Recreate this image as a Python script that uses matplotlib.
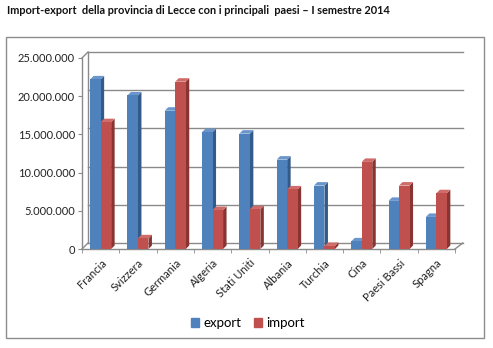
import matplotlib.pyplot as plt
from matplotlib.patches import Polygon, Rectangle, Patch

plt.rcParams['font.family'] = ['Lato', 'DejaVu Sans']

# import-export per paese, I semestre 2014 (euro)
paesi = ['Francia', 'Svizzera', 'Germania', 'Algeria', 'Stati Uniti',
         'Albania', 'Turchia', 'Cina', 'Paesi Bassi', 'Spagna']
export = [22200000, 20100000, 18100000, 15300000, 15100000,
          11700000, 8300000, 1000000, 6300000, 4200000]
importazioni = [16600000, 1400000, 21900000, 5100000, 5200000,
                7800000, 400000, 11400000, 8300000, 7300000]
yticks = [0, 5000000, 10000000, 15000000, 20000000, 25000000]

W, H = 493, 348
fig = plt.figure(figsize=(W / 100, H / 100), dpi=100)
ax = fig.add_axes([82 / W, (H - 249) / H, (455 - 82) / W, (249 - 58) / H])
ax.set_xlim(-0.5, len(paesi) - 0.5)
ax.set_ylim(0, yticks[-1])

# pixel -> data units
px_x = len(paesi) / (455 - 82)
px_y = yticks[-1] / (249 - 58)
wall_dx, wall_dy = 6 * px_x, 6 * px_y
grid_c = '#8a8a8a'
n = len(paesi)

# back wall gridlines + walls/floor edges
for v in yticks:
    ax.plot([-0.5 + wall_dx, n - 0.5 + wall_dx * 1.3], [v + wall_dy] * 2,
            color=grid_c, lw=1, clip_on=False, zorder=1)
ax.plot([-0.5 + wall_dx] * 2, [wall_dy, yticks[-1] + wall_dy], color=grid_c, lw=1, clip_on=False, zorder=1)
ax.plot([-0.5, -0.5], [0, yticks[-1]], color=grid_c, lw=1, clip_on=False, zorder=1)
ax.plot([-0.5, -0.5 + wall_dx], [yticks[-1], yticks[-1] + wall_dy], color=grid_c, lw=1, clip_on=False, zorder=1)
ax.plot([-0.5, -0.5 + wall_dx], [0, wall_dy], color=grid_c, lw=1, clip_on=False, zorder=1)
ax.plot([-0.5, n - 0.5], [0, 0], color=grid_c, lw=1, clip_on=False, zorder=1)
ax.plot([n - 0.5, n - 0.5 + wall_dx * 1.3], [0, wall_dy], color=grid_c, lw=1, clip_on=False, zorder=1)

# 3D-looking columns: front face + side + top
w = 10.5 * px_x
bdx, bdy = 3.5 * px_x, 3.5 * px_y
series = [(export, -w / 2, '#4F81BD', '#345A8A', '#6B96CB'),
          (importazioni, w / 2, '#C0504D', '#8A3431', '#CF6B68')]
z = 2
for i in range(n):
    for vals, off, front, side, top in series:
        h = vals[i]
        xl, xr = i + off - w / 2, i + off + w / 2
        ax.add_patch(Polygon([(xr, 0), (xr + bdx, bdy), (xr + bdx, h + bdy), (xr, h)],
                             closed=True, fc=side, ec='none', zorder=z))
        ax.add_patch(Polygon([(xl, h), (xr, h), (xr + bdx, h + bdy), (xl + bdx, h + bdy)],
                             closed=True, fc=top, ec='none', zorder=z))
        ax.bar(i + off, h, width=w, color=front, zorder=z + 0.5)
        z += 1

for s in ax.spines.values():
    s.set_visible(False)
ax.set_yticks(yticks, [f'{v:,}'.replace(',', '.') for v in yticks])
ax.tick_params(axis='y', length=3, color=grid_c, labelsize=8, pad=2, labelcolor='#222222')
ax.set_xticks(range(n), paesi, rotation=45, ha='right', rotation_mode='anchor')
ax.tick_params(axis='x', length=0, labelsize=8, pad=6, labelcolor='#222222')
ax.set_xticks([i + 0.5 for i in range(-1, n)], minor=True)
ax.tick_params(axis='x', which='minor', length=3, color=grid_c)

fig.text(7 / W, 1 - 10 / H, 'Import-export  della provincia di Lecce con i principali  paesi \u2013 I semestre 2014',
         fontsize=7.9, fontweight='bold', va='center', ha='left', color='#111111')

fig.legend(handles=[Patch(color='#4F81BD', label='export'), Patch(color='#C0504D', label='import')],
           loc='center', bbox_to_anchor=(248 / W, 1 - 323 / H), ncol=2, frameon=False,
           handlelength=0.6, handleheight=0.6, handletextpad=0.3, columnspacing=1.0,
           fontsize=9.5)

fig.add_artist(Rectangle((6 / W, 1 - 338 / H), 478 / W, 301 / H, transform=fig.transFigure,
                         fill=False, ec='#8c8c8c', lw=1))

fig.savefig('out.png', dpi=100)
